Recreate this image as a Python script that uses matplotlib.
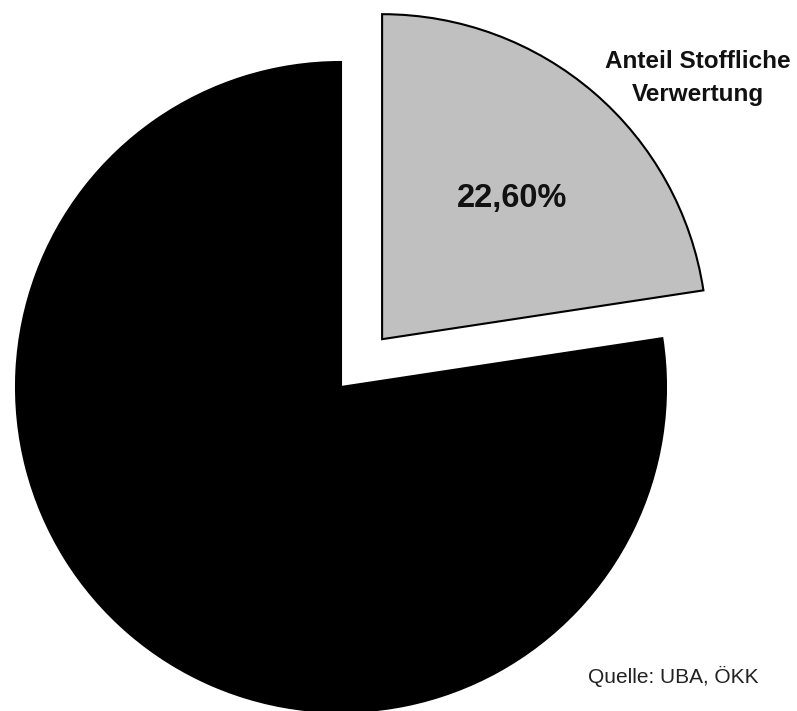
import matplotlib
matplotlib.use('Agg')
import matplotlib.pyplot as plt

plt.rcParams['font.family'] = ['Liberation Sans', 'DejaVu Sans']

# Anteile in Prozent
labels = ['Anteil Stoffliche\nVerwertung', 'Rest']
values = [22.6, 77.4]
colors = ['#c0c0c0', '#000000']
explode = [0.194, 0]  # als Anteil vom Radius
source = 'Quelle: UBA, ÖKK'

W, H = 797, 711
fig = plt.figure(figsize=(W / 100, H / 100), dpi=100)
ax = fig.add_axes([0, 0, 1, 1])

cx, cy, r = 341, H - 387, 325
wedges, _ = ax.pie(values, colors=colors, explode=[e * r for e in explode],
                   startangle=90, counterclock=False, center=(cx, cy), radius=r,
                   wedgeprops=dict(edgecolor='black', linewidth=1.5),
                   frame=True)
ax.set_xlim(0, W)
ax.set_ylim(0, H)
ax.set_aspect('equal')
ax.axis('off')

pct = '{:.2f}%'.format(values[0]).replace('.', ',')
ax.text(512, H - 198, pct, ha='center', va='center', fontsize=23.5,
        fontweight='bold', color='#111111')
ax.text(698, H - 78, labels[0], ha='center', va='center', fontsize=17.5,
        fontweight='bold', color='#111111', linespacing=1.6)
ax.text(673, H - 676, source, ha='center', va='center', fontsize=15,
        color='#222222')

fig.savefig('out.png', dpi=100, facecolor='white')
